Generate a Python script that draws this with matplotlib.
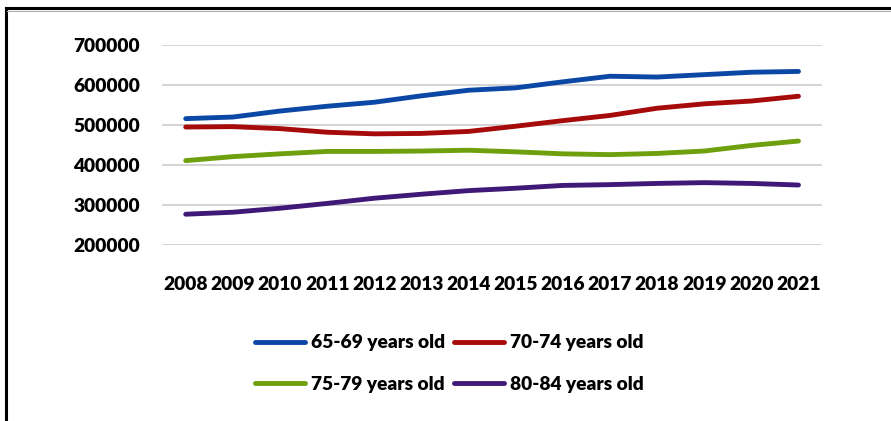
import matplotlib.pyplot as plt
from matplotlib.lines import Line2D

# années et effectifs par tranche d'âge
annees = [str(a) for a in range(2008, 2022)]
age_65_69 = [516000, 520000, 535000, 547000, 557000, 573000, 587000, 593000, 608000, 622000, 620000, 626000, 632000, 634000]
age_70_74 = [495000, 496000, 491000, 482000, 478000, 479000, 484000, 497000, 511000, 524000, 542000, 553000, 560000, 572000]
age_75_79 = [411000, 421000, 428000, 434000, 434000, 435000, 437000, 433000, 428000, 426000, 429000, 435000, 449000, 460000]
age_80_84 = [277000, 282000, 292000, 304000, 317000, 327000, 336000, 342000, 349000, 351000, 354000, 356000, 354000, 350000]

series = [
    ("65-69 years old", age_65_69, "#0B47A5"),
    ("70-74 years old", age_70_74, "#A60A0A"),
    ("75-79 years old", age_75_79, "#6E9F0C"),
    ("80-84 years old", age_80_84, "#3F1878"),
]
yticks = [200000, 300000, 400000, 500000, 600000, 700000]

plt.rcParams['font.family'] = ['Lato', 'DejaVu Sans']
poids = 'heavy'
taille = 13.8

fig = plt.figure(figsize=(8.91, 4.21), dpi=100)
ax = fig.add_axes([0.182, 0.418, 0.7406, 0.475])

x = list(range(len(annees)))
lignes = []
for nom, vals, col in series:
    l, = ax.plot(x, vals, color=col, lw=3.5, label=nom, solid_capstyle='round', solid_joinstyle='round')
    lignes.append(l)

ax.set_xlim(-0.5, len(annees) - 0.5)
ax.set_ylim(200000, 700000)
ax.set_yticks(yticks)
ax.set_yticklabels([str(v) for v in yticks])
ax.set_xticks(x)
ax.set_xticklabels(annees)
ax.grid(axis='y', color='#D3D3D3', lw=1.4)
ax.set_axisbelow(True)
for s in ax.spines.values():
    s.set_visible(False)
ax.tick_params(axis='both', length=0, labelsize=taille)
ax.tick_params(axis='y', pad=16)
ax.tick_params(axis='x', pad=22)
for lab in ax.get_xticklabels() + ax.get_yticklabels():
    lab.set_fontweight(poids)

# légende en lignes : 65-69 / 70-74 puis 75-79 / 80-84
ordre = [0, 2, 1, 3]
leg = fig.legend([lignes[i] for i in ordre], [series[i][0] for i in ordre],
                 loc='center', bbox_to_anchor=(0.5045, 0.136), ncol=2, frameon=False,
                 fontsize=taille, handlelength=2.6, handletextpad=0.3, columnspacing=0.5,
                 labelspacing=1.3)
for t in leg.get_texts():
    t.set_fontweight(poids)

# cadre noir en haut et à gauche
fig.add_artist(Line2D([6 / 891, 1], [1 - 8 / 421, 1 - 8 / 421], color='black', lw=2.2, transform=fig.transFigure))
fig.add_artist(Line2D([6 / 891, 6 / 891], [0, 1 - 8 / 421], color='black', lw=2.2, transform=fig.transFigure))
fig.add_artist(Line2D([7 / 891, 1], [1 - 10.5 / 421, 1 - 10.5 / 421], color='#B0B0B0', lw=0.8, transform=fig.transFigure))

fig.savefig("out.png", dpi=100)
